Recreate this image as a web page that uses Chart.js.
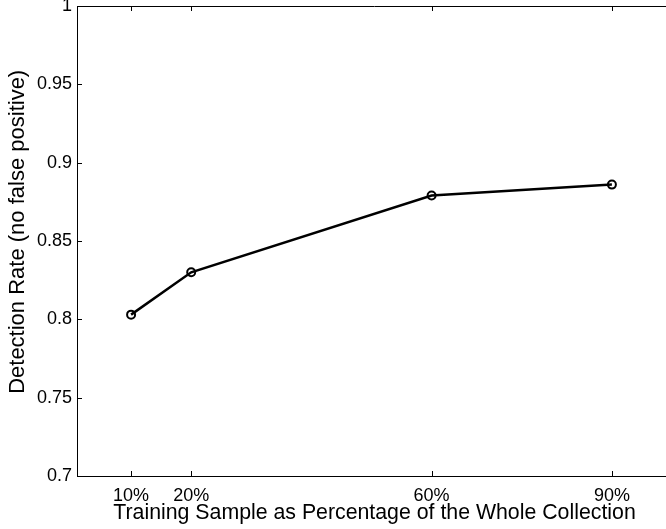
<!DOCTYPE html>
<html>
<head>
<meta charset="utf-8">
<script src="https://cdn.jsdelivr.net/npm/chart.js@4.4.1/dist/chart.umd.min.js"></script>
<style>
  html, body { margin: 0; padding: 0; background: #fff; overflow: hidden; }
  #wrap { width: 690px; height: 529px; }
</style>
</head>
<body>
<div id="wrap"><canvas id="chart" width="690" height="529"></canvas></div>
<script>
// training sample percentages and detection rates
const samplePct = [10, 20, 60, 90];
const detectionRate = [0.803, 0.830, 0.879, 0.886];
const xTicks = [10, 20, 60, 90];
const yTicks = [0.7, 0.75, 0.8, 0.85, 0.9, 0.95, 1];

const FONT = "'Liberation Sans', Arial, Helvetica, sans-serif";

// matlab style inward ticks, bottom/top and left
const innerTicks = {
  id: "innerTicks",
  afterDraw(chart) {
    const { ctx, chartArea: a, scales } = chart;
    const len = 5;
    ctx.save();
    ctx.strokeStyle = "#000";
    ctx.lineWidth = 1;
    ctx.beginPath();
    xTicks.forEach((v) => {
      const x = Math.round(scales.x.getPixelForValue(v)) + 0.5;
      ctx.moveTo(x, a.bottom); ctx.lineTo(x, a.bottom - len);
      ctx.moveTo(x, a.top); ctx.lineTo(x, a.top + len);
    });
    yTicks.forEach((v) => {
      const y = Math.round(scales.y.getPixelForValue(v)) + 0.5;
      ctx.moveTo(a.left, y); ctx.lineTo(a.left + len, y);
    });
    ctx.stroke();
    // top box line
    ctx.beginPath();
    ctx.moveTo(a.left, a.top + 0.5); ctx.lineTo(a.right, a.top + 0.5);
    ctx.stroke();
    ctx.restore();
  },
};

new Chart(document.getElementById("chart"), {
  type: "line",
  data: {
    datasets: [
      {
        data: samplePct.map((x, i) => ({ x: x, y: detectionRate[i] })),
        borderColor: "#000",
        borderWidth: 2.5,
        pointRadius: 4,
        pointBorderWidth: 2,
        pointBorderColor: "#000",
        pointBackgroundColor: "rgba(0,0,0,0)",
        tension: 0,
      },
    ],
  },
  options: {
    responsive: false,
    animation: false,
    layout: { padding: { top: 5, right: 18, left: 0, bottom: 0 } },
    plugins: { legend: { display: false }, tooltip: { enabled: false } },
    scales: {
      x: {
        type: "linear",
        min: 1,
        max: 100,
        afterBuildTicks: (s) => { s.ticks = xTicks.map((v) => ({ value: v })); },
        afterFit: (s) => { s.height = 53; s.paddingLeft = 0; s.paddingRight = 0; },
        grid: { display: false, drawTicks: false },
        border: { display: true, color: "#000", width: 1 },
        ticks: {
          color: "#000",
          padding: 9,
          maxRotation: 0,
          font: { family: FONT, size: 18 },
          callback: (v) => v + "%",
        },
        title: {
          display: true,
          text: "Training Sample as Percentage of the Whole Collection",
          color: "#000",
          padding: { top: 0, bottom: 3 },
          font: { family: FONT, size: 21.3 },
        },
      },
      y: {
        min: 0.7,
        max: 1,
        afterBuildTicks: (s) => { s.ticks = yTicks.map((v) => ({ value: v })); },
        afterFit: (s) => { s.width = 77; s.paddingTop = 0; s.paddingBottom = 0; },
        grid: { display: false, drawTicks: false },
        border: { display: true, color: "#000", width: 1 },
        ticks: {
          color: "#000",
          padding: 5,
          font: { family: FONT, size: 18 },
          callback: (v) => String(+v.toFixed(2)),
        },
        title: {
          display: true,
          text: "   Detection Rate (no false positive)",
          color: "#000",
          padding: { top: 5, bottom: 0 },
          font: { family: FONT, size: 22 },
        },
      },
    },
  },
  plugins: [innerTicks],
});
</script>
</body>
</html>
